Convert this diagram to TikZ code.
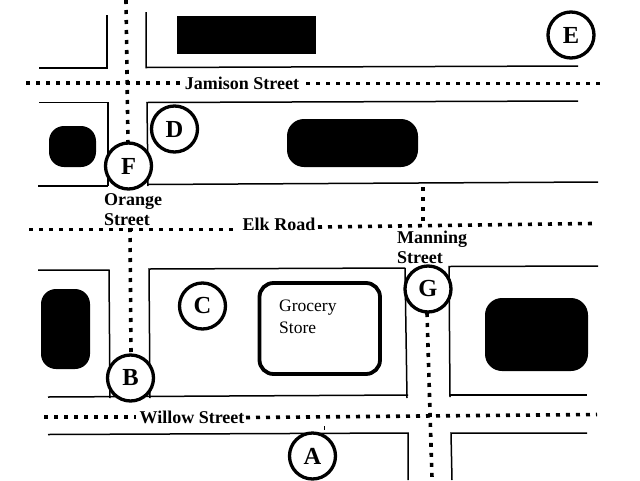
\documentclass[tikz,border=0pt]{standalone}
\usepackage{fontspec}
\setmainfont{Liberation Serif}
\tikzset{
  curb/.style={draw=black,line width=1.5pt},
  lane/.style={draw=black,line width=3.6pt,dash pattern=on 4pt off 6pt},
  stop/.style={circle,draw=black,fill=white,line width=3.3pt,minimum size=46pt,inner sep=0pt,font=\bfseries\fontsize{24.5}{24.5}\selectfont},
  lot/.style={fill=black,rounded corners=#1},
  lot/.default=16pt,
  street/.style={font=\bfseries\fontsize{18}{20.7}\selectfont,inner sep=0pt,align=left},
}
\begin{document}
\begin{tikzpicture}[x=1pt,y=-1pt]
\useasboundingbox[fill=white] (0,0) rectangle (640,480);
% kerbs
\draw[curb] (39,68) -- (107,68) -- (107,15);
\draw[curb] (146,12) -- (146,67.5) -- (578,66);
\draw[curb] (39,102.5) -- (108,102.5) -- (108,186);
\draw[curb] (38,186) -- (108,186);
\draw[curb] (578,101) -- (147,102.5) -- (148,186);
\draw[curb] (147,184.5) -- (598,182);
\draw[curb] (38,270) -- (109,270) -- (110,398);
\draw[curb] (405,268) -- (149,269) -- (150,398);
\draw[curb] (405,268) -- (407,398);
\draw[curb] (48,397) -- (408,395);
\draw[curb] (598,266) -- (449,266.5) -- (450,397);
\draw[curb] (450,395) -- (587,395);
\draw[curb] (48,434.5) -- (408,433) -- (408,480);
\draw[curb] (587,433) -- (451,433) -- (452,480);
\draw[line width=0.6pt] (324,426) -- (324,430);
% lanes
\draw[lane] (26,83) -- (180,83);
\draw[lane] (306,83.5) -- (601,83.5);
\draw[lane] (126,0) -- (128,145);
\draw[lane] (29,229.5) -- (233,229.5);
\draw[lane] (318,227) -- (593,223.5);
\draw[lane] (130,228) -- (131,355);
\draw[lane] (423,187) -- (423,222);
\draw[lane] (427,313) -- (432,478);
\draw[lane] (44,417) -- (136,417);
\draw[lane] (246,417.5) -- (597,414.5);
% lots
\fill[black] (177,16) rectangle (316,54);
\fill[lot=15pt] (49,126) rectangle (96,167);
\fill[lot=17pt] (287,119) rectangle (418,167);
\fill[lot=15pt] (41,289) rectangle (90,369);
\fill[lot=17pt] (485,298) rectangle (588,371);
\draw[line width=3.8pt,rounded corners=14pt] (259.5,283) rectangle (380,374);
% stops
\node[stop] (A) at (312.5,456) {A};
\node[stop] (B) at (130.5,378) {B};
\node[stop] (C) at (202.5,306) {C};
\node[stop] (D) at (174.5,129) {D};
\node[stop] (E) at (571,35) {E};
\node[stop] (F) at (128.5,166) {F};
\node[stop] (G) at (428,289) {G};
% labels
\node[street,anchor=center] (jamison) at (242,83) {Jamison Street};
\node[street,anchor=center] (elk) at (279,224) {Elk Road};
\node[street,anchor=center] (willow) at (192,417) {Willow Street};
\node[street,anchor=north west] (orange) at (104,193) {Orange\\Street};
\node[street,anchor=north west] (manning) at (397,230.5) {Manning\\Street};
\node[anchor=north west,inner sep=0pt,align=left,font=\fontsize{17.5}{21.5}\selectfont] (grocery) at (279,300) {Grocery\\Store};
\end{tikzpicture}
\end{document}
